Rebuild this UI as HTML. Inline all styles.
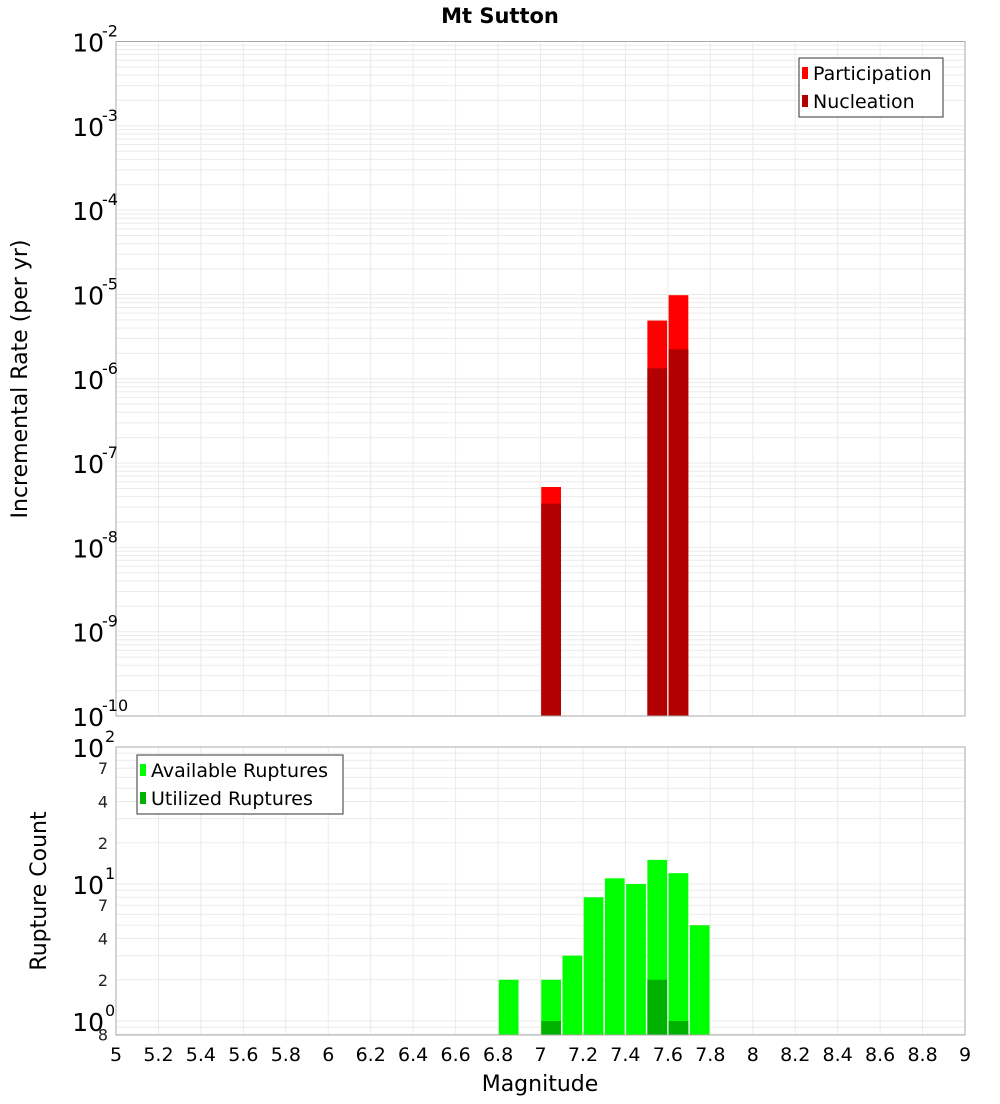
<!DOCTYPE html>
<html><head><meta charset="utf-8"><style>
body{margin:0;background:#fff;font-family:"DejaVu Sans","Liberation Sans",sans-serif}
svg text{font-family:"DejaVu Sans","Liberation Sans",sans-serif}
</style></head><body>
<svg id="c" width="1000" height="1100" xmlns="http://www.w3.org/2000/svg">
<text x="500" y="23" text-anchor="middle" font-size="21" font-weight="bold">Mt Sutton</text>
<text transform="translate(27,379) rotate(-90)" text-anchor="middle" font-size="22">Incremental Rate (per yr)</text>
<text transform="translate(46,891) rotate(-90)" text-anchor="middle" font-size="22">Rupture Count</text>
<text x="540" y="1091" text-anchor="middle" font-size="22">Magnitude</text>
<g id="g"></g>
</svg>
<script>
const mags=[6.85,7.05,7.15,7.25,7.35,7.45,7.55,7.65,7.75];
const partMags=[7.05,7.55,7.65];
const participation=[5.2e-8,4.9e-6,9.8e-6];
const nucleation=[3.3e-8,1.33e-6,2.24e-6];
const available=[2,2,3,8,11,10,15,12,5];
const utilized=[0,1,0,0,0,0,2,1,0];
const xTicks=["5","5.2","5.4","5.6","5.8","6","6.2","6.4","6.6","6.8","7","7.2","7.4","7.6","7.8","8","8.2","8.4","8.6","8.8","9"];

const NS="http://www.w3.org/2000/svg";
const g=document.getElementById('g');
function mk(t,a,p){const e=document.createElementNS(NS,t);for(const k in a)e.setAttribute(k,a[k]);(p||g).appendChild(e);return e;}
const L=116,R=965;
const X=m=>L+(m-5)/4*(R-L);
const T0=41.5,T1=716, B0=747,B1=1035;
const yTop=v=>T0+(-2-Math.log10(v))*(T1-T0)/8;
const yBot=v=>B0+(2-Math.log10(v))*137;

// grids
for(const [top,bot,yf,lo,hi] of [[T0,T1,yTop,-10,-2],[B0,B1,yBot,-1,2]]){
  for(let d=lo;d<hi;d++)for(let k=1;k<10;k++){const y=yf(k*Math.pow(10,d));if(y>top&&y<bot){const l=mk('line',{x1:L,x2:R,y1:y,y2:y,stroke:'#ebebeb','stroke-width':1});

}}
  for(let i=1;i<20;i++){const x=X(5+i*0.2);const l=mk('line',{x1:x,x2:x,y1:top,y2:bot,stroke:'#ebebeb','stroke-width':1});

}
}
// top bars
const bw=(X(5.1)-X(5))-1.5;
partMags.forEach((m,i)=>{
  const x=X(m-0.05)+0.75;
  let y=yTop(participation[i]);
  const p=mk('rect',{x:x,y:y,width:bw,height:T1-y,fill:'#ff0000'});
  
  
  y=yTop(nucleation[i]);
  const n=mk('rect',{x:x,y:y,width:bw,height:T1-y,fill:'#b20000'});
  
  
});
// bottom bars
mags.forEach((m,i)=>{
  const x=X(m-0.05)+0.75;
  if(available[i]>0){let y=yBot(available[i]);
  const a=mk('rect',{x:x,y:y,width:bw,height:B1-y,fill:'#00ff00'});
  
  }
  if(utilized[i]>0){let y=yBot(utilized[i]);
  const u=mk('rect',{x:x,y:y,width:bw,height:B1-y,fill:'#00b200'});
  
  }
});
// frames
for(const [t,b] of [[T0,T1],[B0,B1]]){const f=mk('rect',{x:L,y:t,width:R-L,height:b-t,fill:'none',stroke:'#aaaaaa','stroke-width':1});

}
// top y labels
for(let d=-2;d>=-10;d--){const y=yTop(Math.pow(10,d));
  const t=mk('text',{x:104,y:y+10,'text-anchor':'end','font-size':25});t.textContent='10';
  
  
  const s=mk('text',{x:102,y:y-5,'font-size':16});s.textContent=String(d);
  
  }
// bottom y labels
for(const d of [2,1,0]){const y=yBot(Math.pow(10,d));
  const t=mk('text',{x:104,y:y+10,'text-anchor':'end','font-size':25});t.textContent='10';
  
  
  const s=mk('text',{x:105,y:y-5,'font-size':16});s.textContent=String(d);
  
  }
for(const v of [70,40,20,7,4,2,0.8]){const y=yBot(v);
  const t=mk('text',{x:108,y:y+6,'text-anchor':'end','font-size':16,fill:'#222'});t.textContent=String(v>=10?v/10:(v<1?v*10:v));
  
  }
// x labels
xTicks.forEach(s=>{const t=mk('text',{x:X(+s),y:1061,'text-anchor':'middle','font-size':19});t.textContent=s;
  
  });
// legends
function legend(x,y,w,h,items,name){
  const b=mk('rect',{x:x,y:y,width:w,height:h,fill:'#fff',stroke:'#333','stroke-width':1});
  
  
  items.forEach((it,i)=>{const yy=y+15+i*28;
    const r=mk('rect',{x:x+3,y:yy-6,width:6,height:12,fill:it[1]});
    
    
    const t=mk('text',{x:x+14,y:yy+7,'font-size':19});t.textContent=it[0];
    
    });
}
legend(799,58,144,59,[['Participation','#ff0000'],['Nucleation','#b20000']],'top-legend');
legend(137,755,206,59,[['Available Ruptures','#00ff00'],['Utilized Ruptures','#00b200']],'bottom-legend');
</script>
</body></html>
